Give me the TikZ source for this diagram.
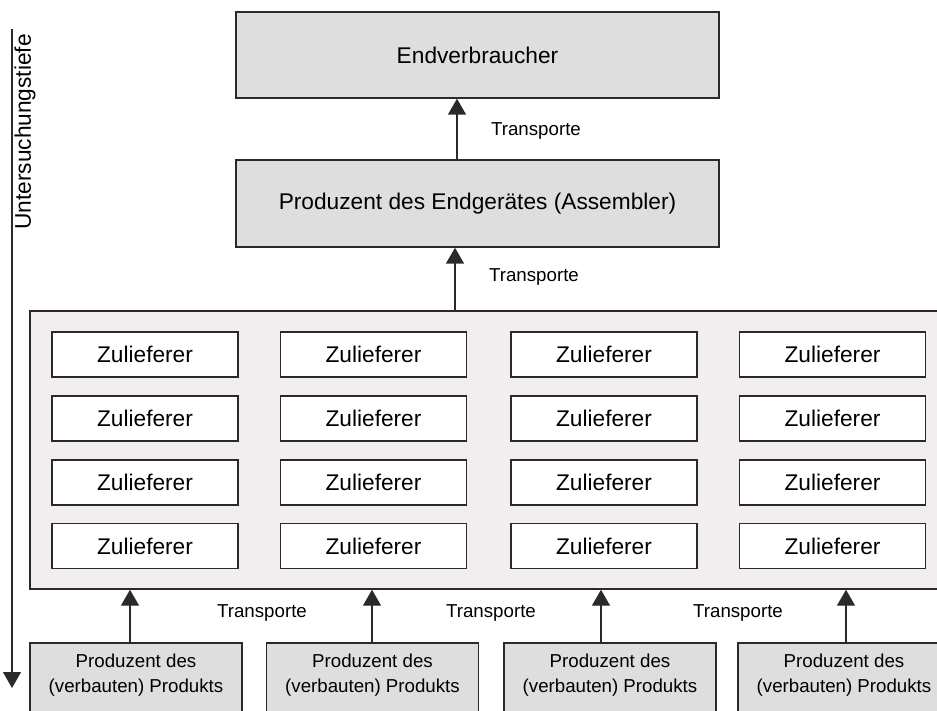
\documentclass[tikz,border=0pt]{standalone}
\usepackage{fontspec}
\setmainfont{Liberation Sans}
\usetikzlibrary{arrows.meta}
\definecolor{boxgray}{HTML}{DEDEDE}
\definecolor{contfill}{HTML}{F2EEF0}
\definecolor{linec}{HTML}{2A2A2A}
\begin{document}
\begin{tikzpicture}[x=1pt,y=-1pt,
  bigfont/.style={font=\fontsize{22.7}{27}\selectfont},
  smallfont/.style={font=\fontsize{18.7}{25}\selectfont},
  graybox/.style={draw=linec,line width=1.4pt,fill=boxgray,inner sep=0pt,bigfont},
  zulbox/.style={draw=linec,line width=1.4pt,fill=white,minimum width=186pt,minimum height=45pt,inner sep=0pt,bigfont},
  prodbox/.style={draw=linec,line width=1.4pt,fill=boxgray,minimum width=212pt,minimum height=80pt,inner sep=0pt},
  prodtext/.style={smallfont,align=center,inner sep=0pt},
  translabel/.style={smallfont,inner sep=0pt},
  arr/.style={draw=linec,line width=1.4pt,-{Triangle[width=18pt,length=16pt]}}
]
\useasboundingbox (0,0) rectangle (937,711);
\clip (0,0) rectangle (937,711);
\fill[white] (0,0) rectangle (937,711);

% top boxes
\node[graybox,minimum width=483pt,minimum height=86pt] (endv) at (477.5,55) {Endverbraucher};
\node[graybox,minimum width=483pt,minimum height=87pt] (assem) at (477.5,203.5) {Produzent des Endgerätes (Assembler)};

% container
\node[draw=linec,line width=1.4pt,fill=contfill,minimum width=930pt,minimum height=278pt,inner sep=0pt] (cont) at (495,450) {};

% Zulieferer grid
\foreach \c/\x in {1/145,2/373.5,3/604,4/832.5}{
  \foreach \r/\y in {1/354.5,2/418.5,3/482.5,4/546}{
    \node[zulbox] (z\c\r) at (\x,\y) {Zulieferer};
  }
}

% bottom producer boxes
\node[prodbox] (pb1) at (136,683) {};
\node[prodbox] (pb2) at (372.5,683) {};
\node[prodbox] (pb3) at (610,683) {};
\node[prodbox] (pb4) at (844,683) {};
\node[prodtext] (pt1) at (136,675) {Produzent des\\(verbauten) Produkts};
\node[prodtext] (pt2) at (372.5,675) {Produzent des\\(verbauten) Produkts};
\node[prodtext] (pt3) at (610,675) {Produzent des\\(verbauten) Produkts};
\node[prodtext] (pt4) at (844,675) {Produzent des\\(verbauten) Produkts};

% arrows
\draw[arr] ([xshift=-20.5pt]assem.north) -- ([xshift=-20.5pt]assem.north |- endv.south);
\draw[arr] ([xshift=-22.5pt]assem.north |- cont.north) -- ([xshift=-22.5pt]assem.south);
\draw[arr] ([xshift=-6pt]pb1.north) -- ([xshift=-6pt]pb1.north |- cont.south);
\draw[arr] ([xshift=-0.5pt]pb2.north) -- ([xshift=-0.5pt]pb2.north |- cont.south);
\draw[arr] ([xshift=-9pt]pb3.north) -- ([xshift=-9pt]pb3.north |- cont.south);
\draw[arr] ([xshift=2pt]pb4.north) -- ([xshift=2pt]pb4.north |- cont.south);

% labels
\node[translabel] (t1) at (536,131) {Transporte};
\node[translabel] (t2) at (534,277) {Transporte};
\node[translabel] (t3) at (262,613) {Transporte};
\node[translabel] (t4) at (491,613) {Transporte};
\node[translabel] (t5) at (738,613) {Transporte};

% depth axis
\coordinate (ax1) at (12,29);
\coordinate (ax2) at (12,688);
\draw[arr] (ax1) -- (ax2);
\node[bigfont,rotate=90,inner sep=0pt] (depth) at (25,132) {Untersuchungstiefe};
\end{tikzpicture}
\end{document}
